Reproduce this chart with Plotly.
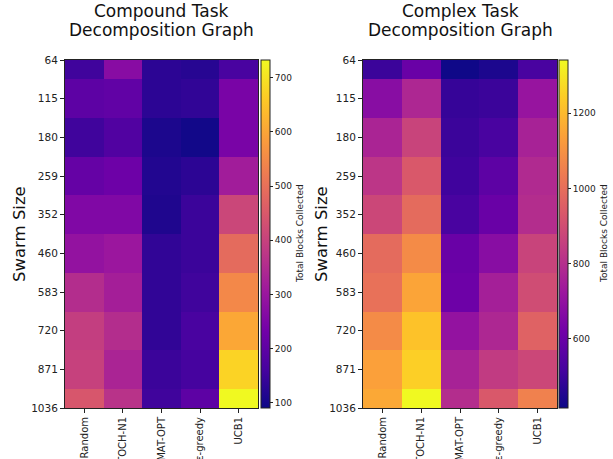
import plotly.graph_objects as go

strategies = ["Random", "STOCH-N1", "CMAT-OPT", "ε-greedy", "UCB1"]
swarm_sizes = ["64", "115", "180", "259", "352", "460", "583", "720", "871", "1036"]

# rows = swarm sizes (top to bottom), columns = strategies
compound_blocks = [
    [154, 270, 129, 122, 167],
    [199, 206, 129, 135, 244],
    [154, 180, 109, 96, 244],
    [212, 225, 116, 129, 315],
    [257, 257, 112, 148, 411],
    [289, 302, 135, 148, 489],
    [354, 321, 135, 154, 547],
    [392, 354, 135, 167, 604],
    [399, 334, 148, 161, 675],
    [444, 366, 154, 199, 733],
]

complex_blocks = [
    [498, 600, 418, 443, 526],
    [675, 777, 489, 498, 712],
    [767, 869, 498, 526, 758],
    [823, 934, 508, 573, 786],
    [879, 990, 526, 600, 795],
    [990, 1082, 600, 675, 869],
    [1008, 1147, 610, 749, 897],
    [1082, 1221, 702, 777, 962],
    [1138, 1249, 758, 841, 879],
    [1157, 1342, 795, 934, 1055],
]

compound_range = [90, 733]
complex_range = [415, 1342]
compound_cb_ticks = [100, 200, 300, 400, 500, 600, 700]
complex_cb_ticks = [600, 800, 1000, 1200]

W, H = 613, 459
FONT = "DejaVu Sans"
dark = "#222222"

def fx(px):
    return px / W

def fy(py):
    return 1 - py / H

top, bottom = 60, 408
left_dom = [fx(65), fx(258)]
right_dom = [fx(363), fx(557)]

fig = go.Figure()

def cbar(xpx, ticks):
    return dict(
        x=fx(xpx), xanchor="left", y=fy(bottom), yanchor="bottom",
        len=(bottom - top) / H, lenmode="fraction",
        thickness=9, thicknessmode="pixels",
        outlinecolor=dark, outlinewidth=1,
        tickvals=ticks, ticks="outside", ticklen=3, tickcolor=dark,
        tickfont=dict(family=FONT, size=9, color=dark),
        xpad=0, ypad=0,
    )

fig.add_trace(go.Heatmap(
    z=compound_blocks, x=list(range(len(strategies))), y=list(range(len(swarm_sizes))),
    colorscale="Plasma", zmin=compound_range[0], zmax=compound_range[1],
    xaxis="x", yaxis="y", colorbar=cbar(261, compound_cb_ticks),
))
fig.add_trace(go.Heatmap(
    z=complex_blocks, x=list(range(len(strategies))), y=list(range(len(swarm_sizes))),
    colorscale="Plasma", zmin=complex_range[0], zmax=complex_range[1],
    xaxis="x2", yaxis="y2", colorbar=cbar(559, complex_cb_ticks),
))

def xax(dom, anchor):
    return dict(
        domain=dom, anchor=anchor, range=[-0.5, 4.5],
        tickvals=list(range(len(strategies))), ticktext=strategies,
        tickangle=-90, ticks="outside", ticklen=4, tickcolor=dark,
        tickfont=dict(family=FONT, size=10, color=dark),
        showline=True, linecolor=dark, linewidth=1, mirror=True,
        showgrid=False, zeroline=False, automargin=False,
    )

def yax(anchor):
    return dict(
        domain=[fy(bottom), fy(top)], anchor=anchor, range=[9, 0],
        tickvals=list(range(len(swarm_sizes))), ticktext=swarm_sizes,
        ticks="outside", ticklen=4, tickcolor=dark,
        tickfont=dict(family=FONT, size=10.5, color=dark),
        showline=True, linecolor=dark, linewidth=1, mirror=True,
        showgrid=False, zeroline=False, automargin=False,
    )

def ann(text, xpx, ypx, size, angle=0, color="#111111", xanchor="center"):
    return dict(text=text, x=fx(xpx), y=fy(ypx), xref="paper", yref="paper",
                xanchor=xanchor, yanchor="middle", showarrow=False,
                textangle=angle, font=dict(family=FONT, size=size, color=color))

mid_y = (top + bottom) / 2

fig.update_layout(
    width=W, height=H,
    margin=dict(l=0, r=0, t=0, b=0),
    paper_bgcolor="white", plot_bgcolor="white",
    xaxis=xax(left_dom, "y"), yaxis=yax("x"),
    xaxis2=xax(right_dom, "y2"), yaxis2=yax("x2"),
    showlegend=False,
    annotations=[
        ann("Compound Task", 161, 11, 17),
        ann("Decomposition Graph", 161, 30, 17),
        ann("Complex Task", 460, 11, 17),
        ann("Decomposition Graph", 460, 30, 17),
        ann("Swarm Size", 20, mid_y, 16.5, -90),
        ann("Swarm Size", 322, mid_y, 16.5, -90),
        ann("Total Blocks Collected", 300, mid_y, 9, -90, dark),
        ann("Total Blocks Collected", 604, mid_y, 9, -90, dark),
    ],
)

fig.write_html(
    "out.html",
    config={"displayModeBar": False},
    post_script="document.body.style.margin='0';document.body.style.overflow='hidden';",
)
